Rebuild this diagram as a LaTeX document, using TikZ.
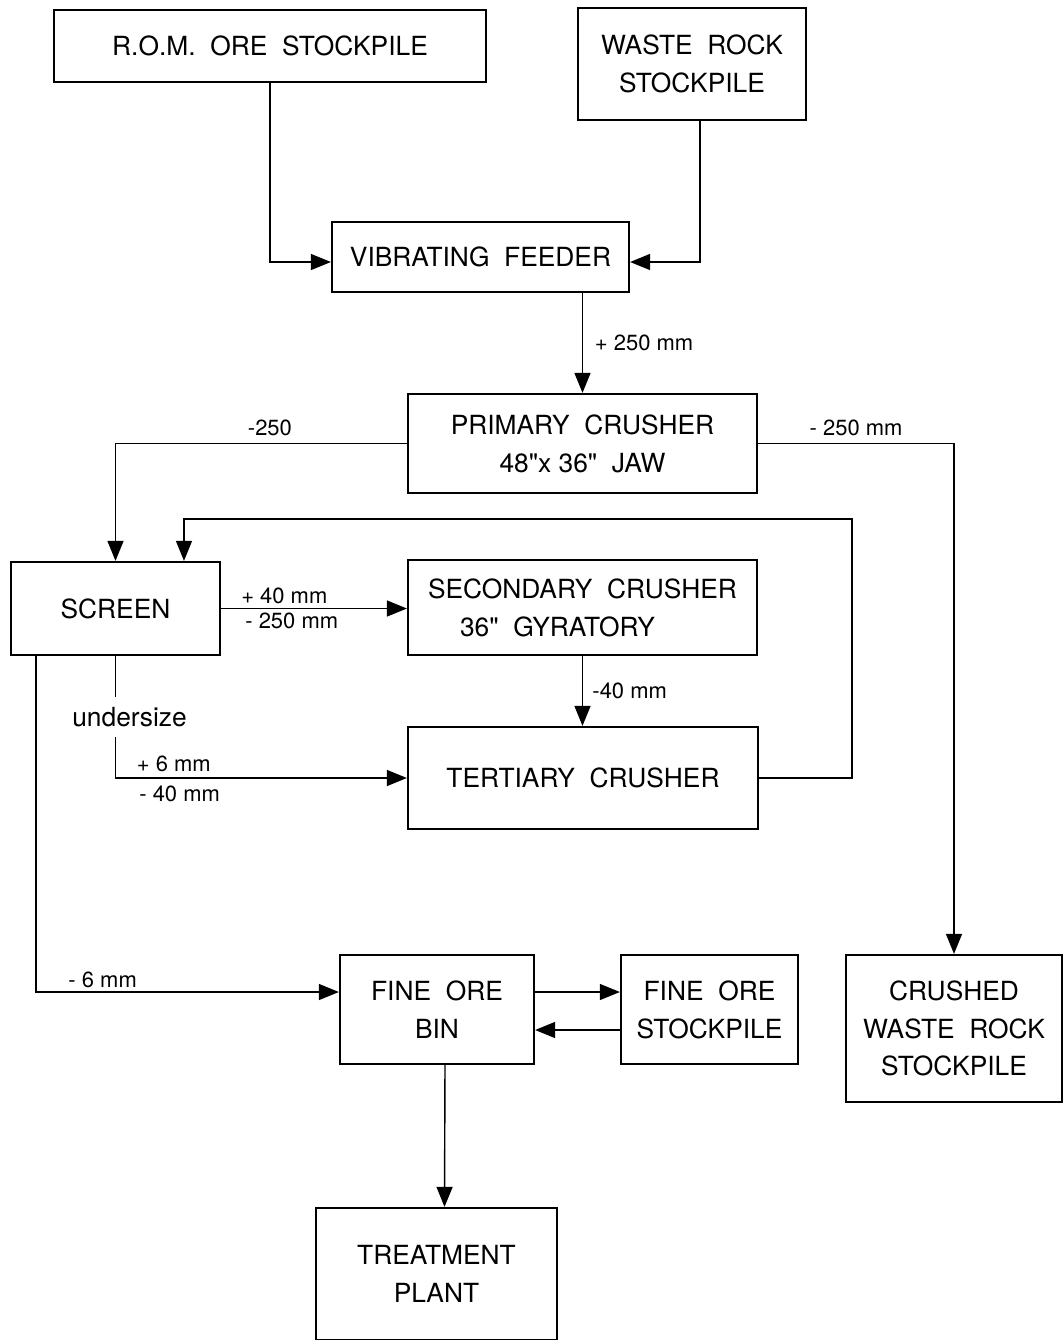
\documentclass[tikz,border=0pt]{standalone}
\usepackage{fontspec}
\setmainfont{TeX Gyre Heros}[Ligatures=TeXOff]
\usetikzlibrary{arrows.meta,positioning}

\begin{document}
\begin{tikzpicture}[
    x=0.02cm, y=-0.02cm,
    font=\fontsize{15}{21.5}\selectfont,
    box/.style={
        draw=black,
        line width=1.3pt,
        align=center,
        inner sep=2pt
    },
    flow/.style={-{Triangle[length=0.4cm, width=0.32cm]}, line width=0.8pt},
    size/.style={font=\fontsize{12.5}{13}\selectfont, inner sep=1pt}
]
\useasboundingbox (0,0) rectangle (1063,1340);

% process boxes
\node[box, minimum width=8.64cm, minimum height=1.44cm] (rom) at (270,46)
    {R.O.M.\ \ ORE\ \ STOCKPILE};
\node[box, minimum width=4.56cm, minimum height=2.24cm] (waste) at (692,64)
    {WASTE\ \ ROCK\\STOCKPILE};
\node[box, minimum width=5.94cm, minimum height=1.40cm] (feeder) at (480.5,257)
    {VIBRATING\ \ FEEDER};
\node[box, minimum width=6.98cm, minimum height=1.98cm] (primary) at (582.5,443.5)
    {PRIMARY\ \ CRUSHER\\48"x 36"\ \ JAW};
\node[box, minimum width=4.18cm, minimum height=1.86cm] (screen) at (115.5,608.5)
    {SCREEN};
\node[box, minimum width=6.98cm, minimum height=1.90cm] (secondary) at (582.5,607.5)
    {SECONDARY\ \ CRUSHER\\36"\ \ GYRATORY\hspace*{1cm}};
\node[box, minimum width=7.00cm, minimum height=2.04cm] (tertiary) at (583,778)
    {TERTIARY\ \ CRUSHER};
\node[box, minimum width=3.88cm, minimum height=2.18cm] (bin) at (437,1009.5)
    {FINE\ \ ORE\\BIN};
\node[box, minimum width=3.54cm, minimum height=2.18cm] (finestock) at (709.5,1009.5)
    {FINE\ \ ORE\\STOCKPILE};
\node[box, minimum width=4.32cm, minimum height=2.94cm] (crushed) at (954,1028.5)
    {CRUSHED\\WASTE\ \ ROCK\\STOCKPILE};
\node[box, minimum width=4.82cm, minimum height=2.64cm] (plant) at (436.5,1274)
    {TREATMENT\\PLANT};

% feed
\draw[flow] (rom.south) |- ([yshift=-0.1cm]feeder.west);
\draw[flow] ([xshift=0.16cm]waste.south) |- ([yshift=-0.1cm]feeder.east);
\draw[flow] (feeder.south -| primary.north) -- (primary.north)
    node[size, midway, right=2mm] {+ 250 mm};

% primary crusher products
\draw[flow] (primary.west) -| (screen.north)
    node[size, pos=0.235, above=1mm] {-250};
\draw[flow] (primary.east) -| (crushed.north)
    node[size, pos=0.25, above=1mm] {- 250 mm};

% screen and crushing circuit
\draw[flow] (screen.east) -- (screen.east -| secondary.west)
    node[size, pos=0.34, above=1pt] {+ 40 mm}
    node[size, pos=0.38, below=1pt] {- 250 mm};
\draw[flow] (secondary.south) -- (secondary.south |- tertiary.north)
    node[size, midway, right=1.5mm] {-40 mm};
\coordinate (returntop) at (852,519);
\draw[flow] (tertiary.east) -| (returntop) -| ([xshift=1.37cm]screen.north);
\draw[flow] (screen.south) |- (tertiary.west)
    node[pos=0.25, xshift=0.28cm, fill=white, inner xsep=0pt, inner ysep=0.2cm,
         font=\fontsize{15}{16}\selectfont] {undersize}
    node[size, pos=0.6, above=2pt] {+ 6 mm}
    node[size, pos=0.61, below=3pt] {- 40 mm};
\draw[flow] ([xshift=-1.59cm]screen.south) |- ([yshift=0.35cm]bin.west)
    node[size, pos=0.61, above=1pt] {- 6 mm};

% fine ore handling
\draw[flow] ([yshift=0.35cm]bin.east) -- ([yshift=0.35cm]finestock.west);
\draw[flow] ([yshift=-0.41cm]finestock.west) -- ([yshift=-0.41cm]bin.east);
\draw[flow] ([xshift=0.16cm]bin.south) -- ([xshift=0.16cm]plant.north);

\end{tikzpicture}
\end{document}
